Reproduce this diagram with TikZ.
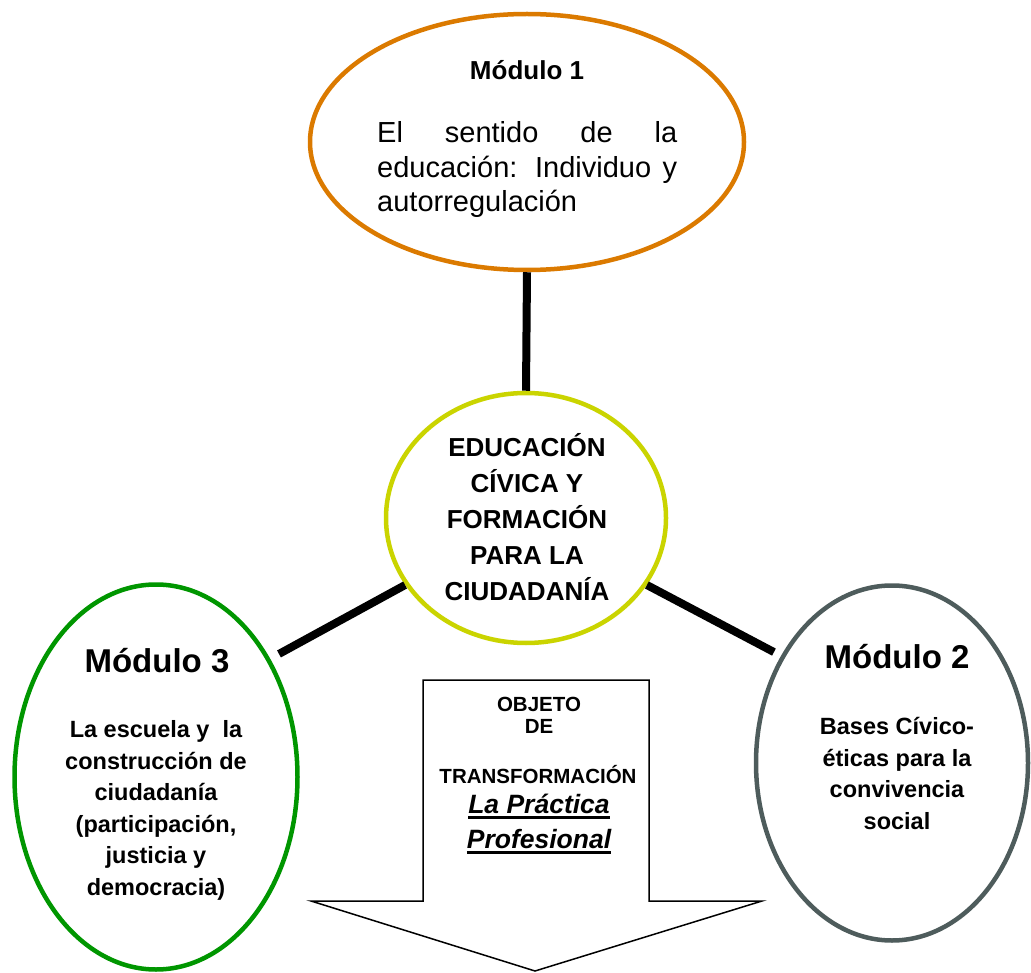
\documentclass[tikz,border=0pt]{standalone}
\usepackage{fontspec}
\setmainfont{Liberation Sans}
\usepackage{xcolor}
\usetikzlibrary{shapes,positioning,calc}

\definecolor{modorange}{RGB}{219,122,0}
\definecolor{modlime}{RGB}{202,212,0}
\definecolor{modgreen}{RGB}{0,150,0}
\definecolor{modgray}{RGB}{78,92,92}

\newcommand{\subrayado}[1]{\setbox0=\hbox{#1}\rlap{\rule[-6pt]{\wd0}{2.8pt}}\box0}

\begin{document}
\begin{tikzpicture}[x=1pt, y=-1pt,
    modulo/.style={draw, ellipse, line width=4.5pt, inner sep=0pt},
    link/.style={line width=8pt},
    titulo/.style={anchor=base, font=\fontsize{33}{38}\selectfont\bfseries},
    cuerpo/.style={anchor=base, align=center, inner sep=0pt, font=\fontsize{23.5}{31.5}\selectfont\bfseries}]
    \useasboundingbox (0,0) rectangle (1031,973);

    % the four modules
    \node (sentido) [modulo, draw=modorange, minimum width=434pt, minimum height=256pt] at (527,142) {};
    \node (civica) [modulo, draw=modlime, minimum width=280pt, minimum height=250pt] at (526,518) {};
    \node (escuela) [modulo, draw=modgreen, minimum width=283pt, minimum height=385pt] at (156,777) {};
    \node (bases) [modulo, draw=modgray, minimum width=272pt, minimum height=355pt] at (892,763) {};

    \draw [link] (sentido.south) -- (civica.north);
    \draw [link, shorten >=10pt] (civica.209) -- (escuela.46);
    \draw [link, shorten >=8pt] (civica.331) -- (bases.136);

    % texts (base = last line, first line with text width)
    \node (titulo1) [titulo, font=\fontsize{26}{30}\selectfont\bfseries] at (527,80) {Módulo 1};
    \node (texto1) [anchor=base west, inner sep=0pt, text width=300pt, align=justify,
        font=\fontsize{29}{34.5}\selectfont] at (377,143)
        {El sentido de la\linebreak educación: Individuo y\linebreak autorregulación};

    \node (textoc) [cuerpo, font=\fontsize{26}{36}\selectfont\bfseries] at (527,600)
        {EDUCACIÓN\\CÍVICA Y\\FORMACIÓN\\PARA LA\\CIUDADANÍA};

    \node (titulo3) [titulo] at (157,672) {Módulo 3};
    \node (texto3) [cuerpo] at (156,895)
        {La escuela y\ \ la\\construcción de\\ciudadanía\\(participación,\\justicia y\\democracia)};

    \node (titulo2) [titulo] at (897,668) {Módulo 2};
    \node (texto2) [cuerpo] at (897,829)
        {Bases Cívico-\\éticas para la\\convivencia\\social};

    % arrow towards the bottom
    \draw [line width=1.5pt] (423,680) -- (649,680) -- (649,901) -- (762,901) -- (535,971)
        -- (311,901) -- (423,901) -- cycle;
    \node (objeto) [cuerpo, font=\fontsize{20.5}{22}\selectfont\bfseries] at (539,733) {OBJETO\\DE};
    \node (transformacion) [cuerpo, font=\fontsize{20.5}{22}\selectfont\bfseries] at (538,783) {TRANSFORMACIÓN};
    \node (practica) [cuerpo, font=\fontsize{26.5}{35}\selectfont\bfseries\itshape] at (539,848)
        {\subrayado{La Práctica}\\\subrayado{Profesional}};
\end{tikzpicture}
\end{document}
